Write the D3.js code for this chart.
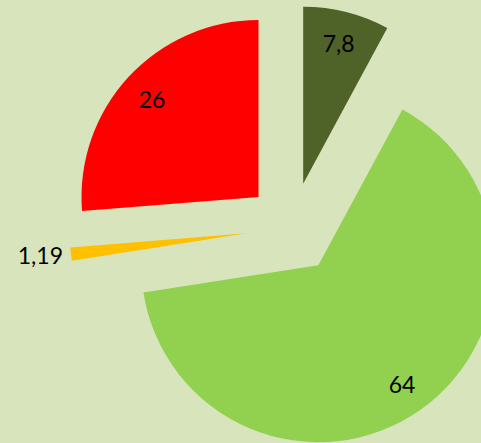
<!DOCTYPE html>
<html>
<head>
  <meta charset="utf-8">
  <title>Exploded pie</title>
  <script src="https://d3js.org/d3.v7.min.js"></script>
  <style>
    body { margin: 0; background: #d8e4bc; }
    svg { display: block; }
  </style>
</head>
<body>
  <script>
    // Chart values (clockwise from 12 o'clock)
    let values = [7.8, 64, 1.19, 26];
    let colors = ["#4f6228", "#92d050", "#ffc000", "#ff0000"];

    let width = 481, height = 443;
    let cx = 292, cy = 228; // pie centre before exploding
    let radius = 177;
    let explode = 45.6;   // each slice pushed out along its bisector
    let labelRadius = 145;

    // numbers shown with a decimal comma
    let fmt = d3.formatLocale({ decimal: ",", thousands: " ", grouping: [3], currency: ["", ""] }).format("~g");

    let svg = d3.select("body")
      .append("svg")
      .attr("width", width)
      .attr("height", height);

    svg.append("rect")
      .attr("width", width)
      .attr("height", height)
      .attr("fill", "#d8e4bc");

    let pie = d3.pie().sort(null).value((d) => d);

    let arc = d3.arc().innerRadius(0).outerRadius(radius);
    let labelArc = d3.arc().innerRadius(labelRadius).outerRadius(labelRadius);

    let slices = svg.selectAll(".slice")
      .data(pie(values))
      .enter()
      .append("g")
      .attr("class", "slice")
      .attr("transform", function(d) {
        let mid = (d.startAngle + d.endAngle) / 2;
        let x = cx + explode * Math.sin(mid);
        let y = cy - explode * Math.cos(mid);
        return "translate(" + x + "," + y + ")";
      });

    slices.append("path")
      .attr("d", arc)
      .attr("fill", (d, i) => colors[i]);

    // labels: inside for big slices, outside for the thin one
    slices.append("text")
      .attr("transform", function(d) {
        let small = d.endAngle - d.startAngle < 0.2;
        if (small) {
          let mid = (d.startAngle + d.endAngle) / 2;
          let r = radius + 8;
          return "translate(" + (r * Math.sin(mid)) + "," + (-r * Math.cos(mid)) + ")";
        }
        return "translate(" + labelArc.centroid(d) + ")";
      })
      .attr("text-anchor", (d) => (d.endAngle - d.startAngle < 0.2 ? "end" : "middle"))
      .attr("dominant-baseline", "central")
      .style("font-family", "Lato, 'Open Sans', sans-serif")
      .style("font-size", "23px")
      .attr("fill", "#000")
      .text((d) => fmt(d.data));
  </script>
</body>
</html>
